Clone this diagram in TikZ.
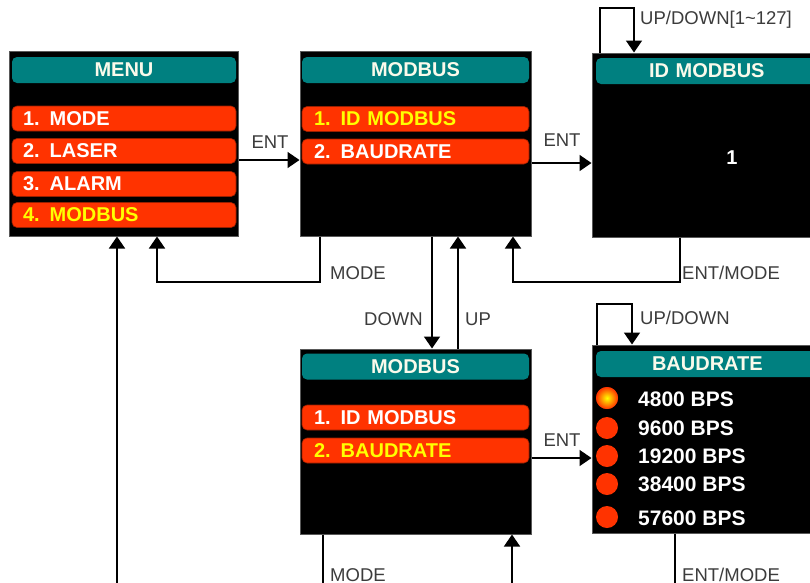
\documentclass[tikz,border=0pt]{standalone}
\usepackage{fontspec}
\setmainfont{Liberation Sans}
\usetikzlibrary{arrows.meta,calc}
\definecolor{tealhdr}{RGB}{0,128,128}
\definecolor{itemred}{RGB}{255,51,0}
\definecolor{lblgray}{RGB}{60,60,60}
\definecolor{hdrtext}{RGB}{250,250,235}
\definecolor{selyellow}{RGB}{255,255,0}
\newcommand{\boxfont}{\bfseries\fontsize{20}{22}\selectfont}
\newcommand{\bpsfont}{\bfseries\fontsize{21}{23}\selectfont}
\newcommand{\lblfont}{\fontsize{18.5}{20}\selectfont}
\begin{document}
\begin{tikzpicture}[x=1pt,y=-1pt,
  screen/.style={draw=black!65, line width=1pt, fill=black, inner sep=0pt},
  hdr/.style={fill=tealhdr, rounded corners=5pt, inner sep=0pt, minimum height=26pt, text=hdrtext, font=\boxfont},
  item/.style={fill=itemred, draw=itemred!60!black, line width=0.6pt, rounded corners=5pt, inner ysep=0pt, minimum height=25pt, text=white, font=\boxfont, align=left},
  sel/.style={text=selyellow},
  dot/.style={circle, fill=itemred, minimum size=22pt, inner sep=0pt},
  bps/.style={anchor=west, text=white, font=\bpsfont, inner sep=0pt},
  lbl/.style={text=lblgray, font=\lblfont, inner sep=0pt},
  arr/.style={line width=1.6pt, draw=black, -{Triangle[width=16pt,length=12pt]}},
  ln/.style={line width=1.6pt, draw=black}
]
\useasboundingbox (0,0) rectangle (810,582);
\clip (0,0) rectangle (810,582);
\fill[white] (0,0) rectangle (810,582);

% ---------- MENU ----------
\node[screen, minimum width=229pt, minimum height=185pt] (menu) at (123.5,143.5) {};
\node[hdr, minimum width=224pt] (menuh) at (124,70) {MENU};
\node[item, text width=202pt, inner xsep=11pt] (menu1) at (124,118.5) {1. MODE};
\node[item, text width=202pt, inner xsep=11pt] (menu2) at (124,151) {2. LASER};
\node[item, text width=202pt, inner xsep=11pt] (menu3) at (124,184) {3. ALARM};
\node[item, text width=202pt, inner xsep=11pt, sel] (menu4) at (124,215) {4. MODBUS};

% ---------- MODBUS (top) ----------
\node[screen, minimum width=231pt, minimum height=185pt] (mtop) at (415.5,143.5) {};
\node[hdr, minimum width=227pt] (mtoph) at (415.5,70) {MODBUS};
\node[item, text width=203pt, inner xsep=12pt, sel] (mtop1) at (415.5,119) {1. ID MODBUS};
\node[item, text width=203pt, inner xsep=12pt] (mtop2) at (415.5,151.5) {2. BAUDRATE};

% ---------- ID MODBUS ----------
\node[screen, minimum width=240pt, minimum height=184pt] (idb) at (712,145) {};
\node[hdr, minimum width=240pt, text width=216pt, align=left] (idbh) at (716,71) {\hspace*{41pt}ID MODBUS};
\node[text=white, font=\boxfont, inner sep=0pt] (idval) at (732,158) {1};

% ---------- MODBUS (bottom) ----------
\node[screen, minimum width=231pt, minimum height=185pt] (mbot) at (415.5,441.5) {};
\node[hdr, minimum width=227pt] (mboth) at (415.5,366.5) {MODBUS};
\node[item, text width=203pt, inner xsep=12pt] (mbot1) at (415.5,417.5) {1. ID MODBUS};
\node[item, text width=203pt, inner xsep=12pt, sel] (mbot2) at (415.5,450.5) {2. BAUDRATE};

% ---------- BAUDRATE ----------
\node[screen, minimum width=240pt, minimum height=188pt] (baud) at (712,439) {};
\node[hdr, minimum width=240pt, text width=216pt, align=left] (baudh) at (716,364) {\hspace*{44pt}BAUDRATE};
\node[dot, shading=radial, inner color=selyellow, outer color=itemred] (d1) at (607,398) {};
\node[dot] (d2) at (607,428) {};
\node[dot] (d3) at (607,456) {};
\node[dot] (d4) at (607,484) {};
\node[dot] (d5) at (607,517) {};
\node[bps] (b1) at (638,399) {4800 BPS};
\node[bps] (b2) at (638,428) {9600 BPS};
\node[bps] (b3) at (638,456) {19200 BPS};
\node[bps] (b4) at (638,484) {38400 BPS};
\node[bps] (b5) at (638,518) {57600 BPS};

% ---------- free ends at the cut bottom edge ----------
\coordinate (e1) at (323,590);
\coordinate (e2) at (117,590);
\coordinate (e3) at (675,590);
\coordinate (e4) at (512,590);

% ---------- connectors ----------
\draw[arr] (menu.east |- 0,160) -- (mtop.west |- 0,160);
\node[lbl] (l1) at (270,142) {ENT};
\draw[arr] (mtop.east |- 0,163) -- (idb.west |- 0,163);
\node[lbl] (l2) at (562,140) {ENT};

\draw[arr] (mtop.south -| 320,0) -- (320,282) -- (157,282) -- (menu.south -| 157,0);
\node[lbl, anchor=west] (l3) at (330,273) {MODE};

\draw[arr] (idb.south -| 680,0) -- (680,282) -- (513,282) -- (mtop.south -| 513,0);
\node[lbl, anchor=west] (l4) at (682,273) {ENT/MODE};

\draw[arr] (mtop.south -| 432,0) -- (mbot.north -| 432,0);
\node[lbl, anchor=east] (l5) at (423,319) {DOWN};
\draw[arr] (mbot.north -| 458,0) -- (mtop.south -| 458,0);
\node[lbl, anchor=west] (l6) at (465,319) {UP};

\draw[arr] (mbot.east |- 0,458) -- (baud.west |- 0,458);
\node[lbl] (l7) at (562,440) {ENT};

\draw[ln] (mbot.south -| e1) -- (e1);
\node[lbl, anchor=west] (l8) at (330,575) {MODE};
\draw[arr] (e2) -- (menu.south -| e2);
\draw[ln] (baud.south -| e3) -- (e3);
\node[lbl, anchor=west] (l9) at (682,575) {ENT/MODE};
\draw[arr] (e4) -- (mbot.south -| e4);

\draw[arr] (idb.north -| 600,0) -- (600,8) -- (634,8) -- (idb.north -| 634,0);
\node[lbl, anchor=west] (l10) at (640,20) {UP/DOWN[1\textasciitilde127]};
\draw[arr] (baud.north -| 597,0) -- (597,304) -- (632,304) -- (baud.north -| 632,0);
\node[lbl, anchor=west] (l11) at (640,318) {UP/DOWN};
\end{tikzpicture}
\end{document}
